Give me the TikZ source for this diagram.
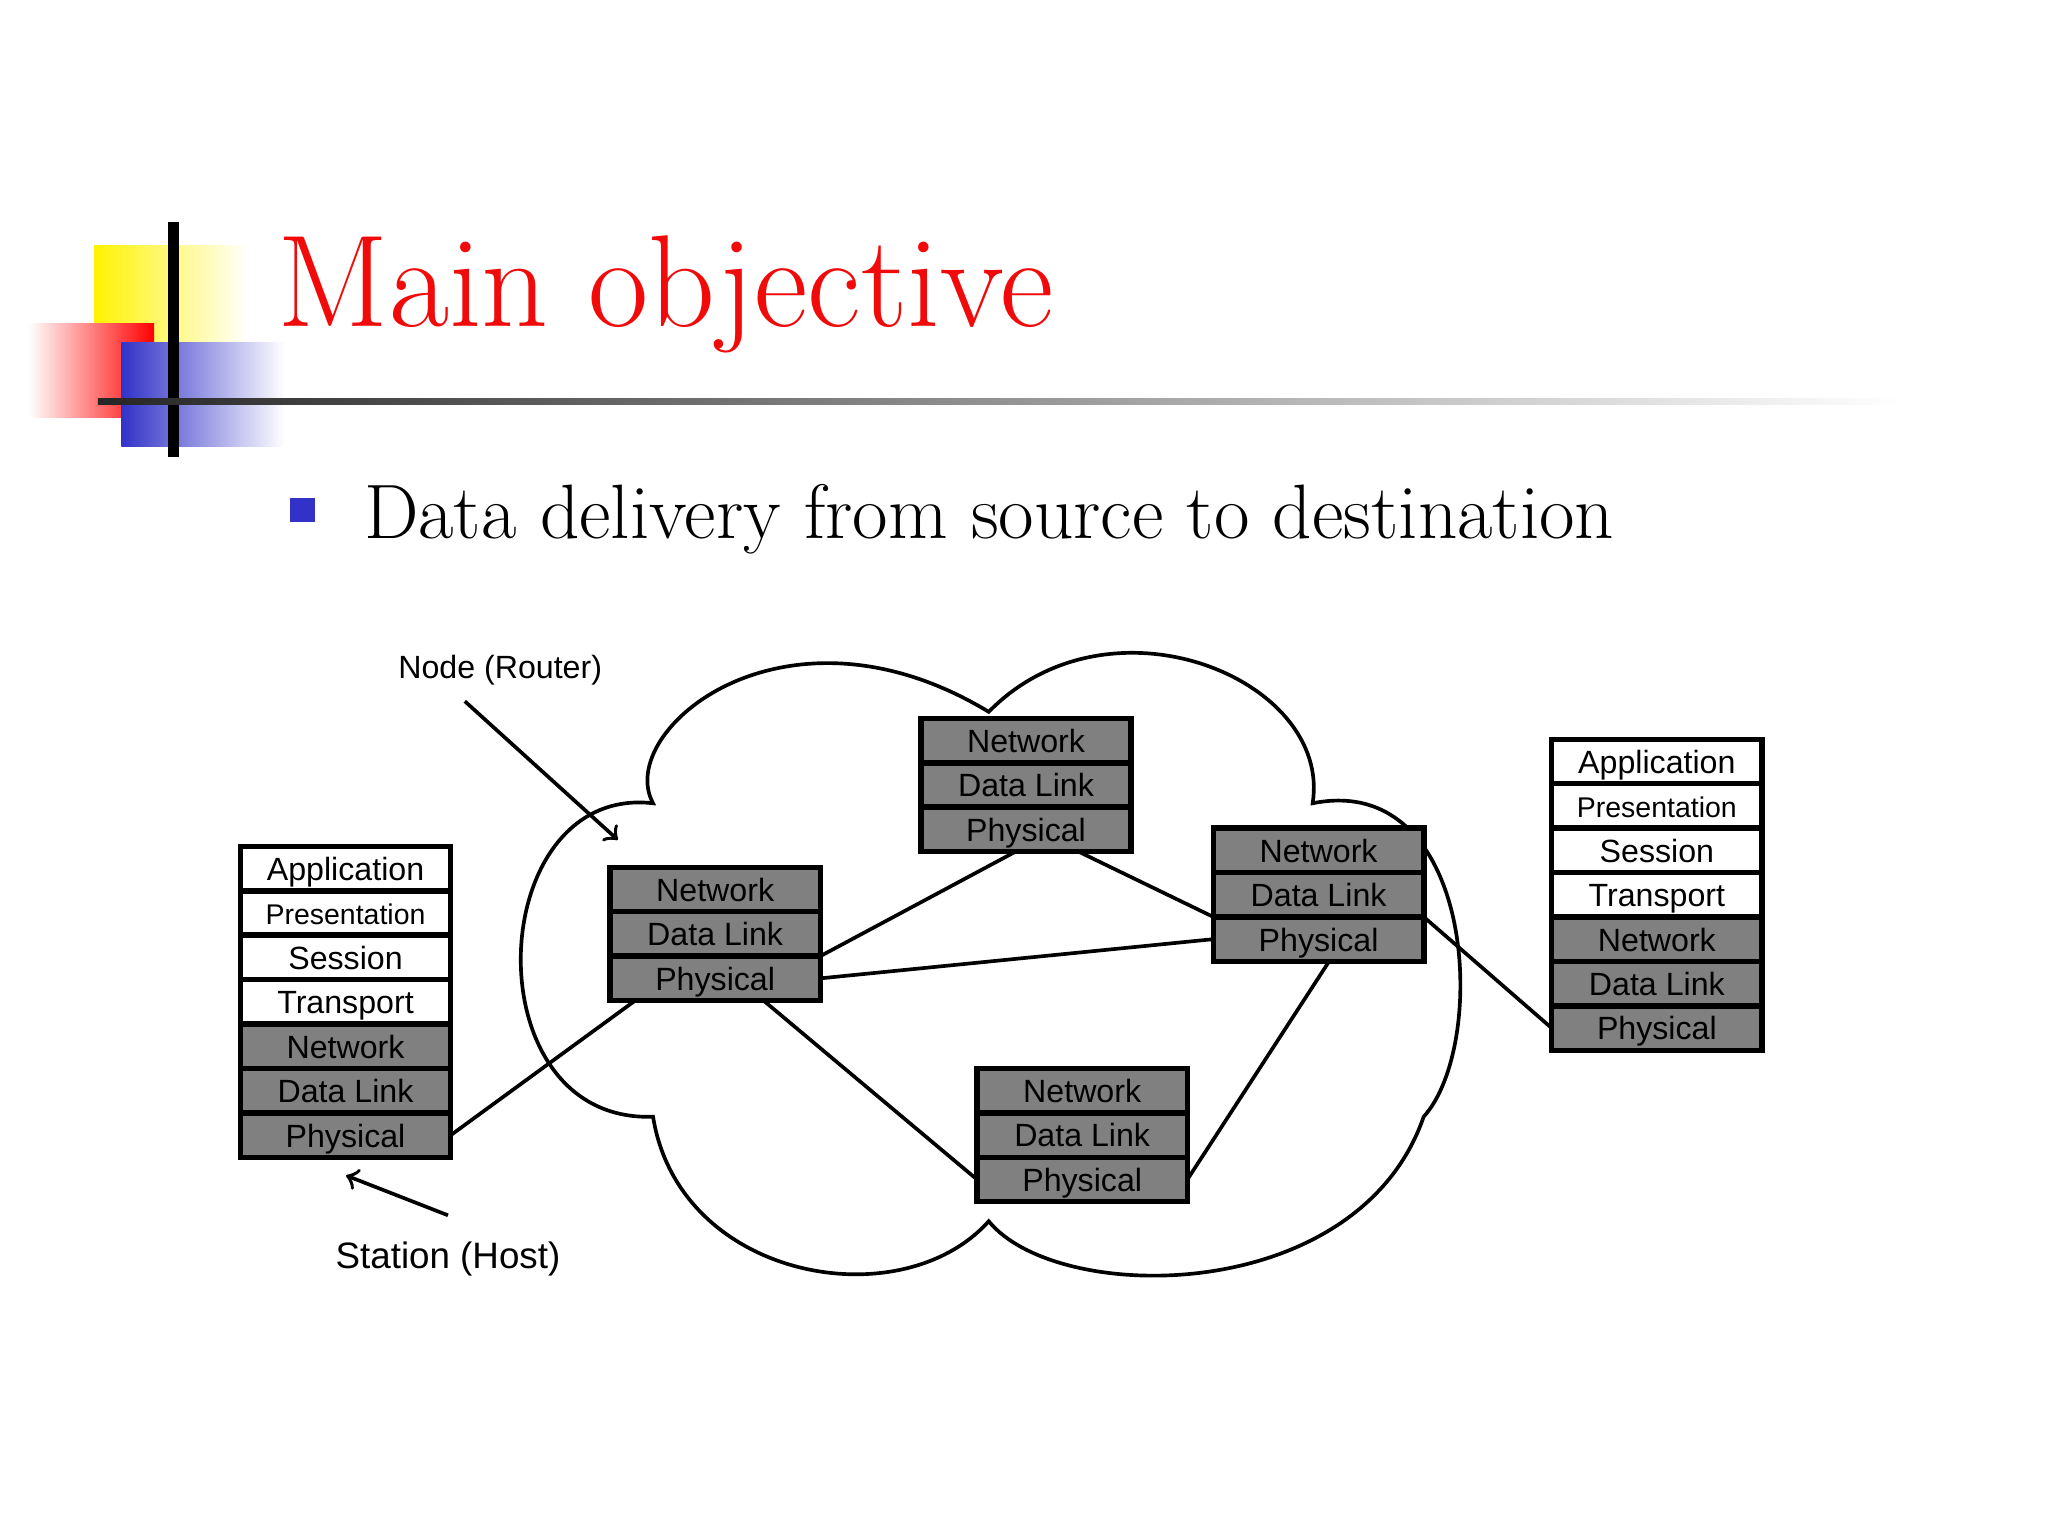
\documentclass[tikz,border=0pt]{standalone}
\usepackage{fontspec}
\newfontfamily\lab{Liberation Sans}
\usetikzlibrary{calc,positioning}
\definecolor{LayerGray}{RGB}{128,128,128}
\definecolor{TitleRed}{RGB}{240,10,10}
\definecolor{BulletBlue}{RGB}{50,50,200}

\tikzset{
  lay/.style={draw, very thick, minimum width=1.61cm, minimum height=0.34cm,
    text height=1.6ex, text depth=0.4ex, inner sep=0pt, outer sep=0pt,
    font=\lab\fontsize{7}{8}\selectfont, fill=white},
  low/.style={lay, fill=LayerGray},
  small/.style={font=\lab\fontsize{6.2}{7}\selectfont},
  link/.style={thick, black},
  note/.style={font=\lab\fontsize{7}{8}\selectfont}
}

\begin{document}
\begin{tikzpicture}[x=0.01cm,y=-0.01cm]
  \useasboundingbox (0,0) rectangle (1568,1176);
  \fill[white] (0,0) rectangle (1568,1176);

  % logo
  \shade[left color=yellow!90!orange, right color=white] (72,188) rectangle (190,262);
  \shade[left color=white, right color=red] (22,248) rectangle (118,320);
  \shade[left color=BulletBlue, right color=white] (93,262) rectangle (218,342);
  \draw[line width=2.5pt] (133,170) -- (133,350);
  \shade[left color=black!85, right color=white] (75,305) rectangle (1455,310);

  \node[anchor=base west, inner sep=0pt, text=TitleRed, font=\fontsize{28.5}{30}\selectfont] (title) at (212,250) {Main objective};
  \fill[BulletBlue] (222,381) rectangle (241,400);
  \node[anchor=base west, inner sep=0pt, font=\fontsize{16.8}{20}\selectfont] (point) at (278,412) {Data delivery from source to destination};

  % cloud
  \draw[thick, fill=white] (500,615)
    .. controls (470,560) and (600,450) .. (757,545)
    .. controls (850,450) and (1020,520) .. (1005,615)
    .. controls (1130,590) and (1140,800) .. (1090,855)
    .. controls (1040,1000) and (810,1000) .. (757,935)
    .. controls (690,1010) and (520,980) .. (500,855)
    .. controls (360,860) and (370,600) .. (500,615) -- cycle;

  % hosts
  \node[lay, anchor=north west] (h1) at (184,648) {Application};
  \node[lay, small, below=0pt of h1] (h2) {Presentation};
  \node[lay, below=0pt of h2] (h3) {Session};
  \node[lay, below=0pt of h3] (h4) {Transport};
  \node[low, below=0pt of h4] (h5) {Network};
  \node[low, below=0pt of h5] (h6) {Data Link};
  \node[low, below=0pt of h6] (h7) {Physical};

  \node[lay, anchor=north west] (g1) at (1188,566) {Application};
  \node[lay, small, below=0pt of g1] (g2) {Presentation};
  \node[lay, below=0pt of g2] (g3) {Session};
  \node[lay, below=0pt of g3] (g4) {Transport};
  \node[low, below=0pt of g4] (g5) {Network};
  \node[low, below=0pt of g5] (g6) {Data Link};
  \node[low, below=0pt of g6] (g7) {Physical};

  % routers
  \foreach \nm/\x/\y in {a/467/664, b/705/550, c/929/634, d/748/818}{
    \node[low, anchor=north west] (\nm1) at (\x,\y) {Network};
    \node[low, below=0pt of \nm1] (\nm2) {Data Link};
    \node[low, below=0pt of \nm2] (\nm3) {Physical};
  }

  % links
  \draw[link] (h7.east) -- ($(a3.south west)!0.12!(a3.south east)$);
  \draw[link] (a3.north east) -- ($(b3.south west)!0.45!(b3.south east)$);
  \draw[link] (a3.east) -- (c3.west);
  \draw[link] ($(a3.south west)!0.73!(a3.south east)$) -- (d3.west);
  \draw[link] ($(b3.south west)!0.75!(b3.south east)$) -- (c3.north west);
  \draw[link] ($(c3.south west)!0.55!(c3.south east)$) -- (d3.east);
  \draw[link] (c3.north east) -- (g7.west);

  % labels
  \node[note] (router) at (383,513) {Node (Router)};
  \coordinate (routertip) at (473,643);
  \draw[link, ->] ($(router.south west)!0.35!(router.south east)$) -- (routertip);
  \node[note, font=\lab\fontsize{8}{9}\selectfont] (host) at (343,964) {Station (Host)};
  \coordinate (hosttip) at (265,900);
  \draw[link, ->] ($(host.north)+(0,-8)$) -- (hosttip);
\end{tikzpicture}
\end{document}
